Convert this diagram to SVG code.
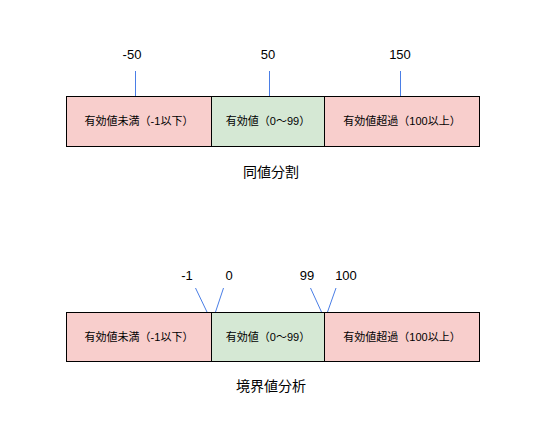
<svg xmlns="http://www.w3.org/2000/svg" width="544" height="426" viewBox="0 0 544 426">
<style>
text{font-family:"Liberation Sans","Noto Sans CJK JP",sans-serif;fill:#000;text-anchor:middle}
.lbl{font-size:13px}
.box{font-size:11px}
.ttl{font-size:14px}
.ng{fill:#f8cecc;stroke:#000;stroke-width:1}
.ok{fill:#d5e8d4;stroke:#000;stroke-width:1}
.ln{stroke:#4a7ee6;stroke-width:1;fill:none}
</style>
<rect width="544" height="426" fill="#fff"/>
<g id="ep-below"><rect class="ng" x="66.5" y="96.5" width="145" height="50"/><text class="box" x="139" y="125">有効値未満（-1以下）</text></g>
<g id="ep-valid"><rect class="ok" x="211.5" y="96.5" width="113" height="50"/><text class="box" x="268" y="125">有効値（0～99）</text></g>
<g id="ep-above"><rect class="ng" x="324.5" y="96.5" width="155" height="50"/><text class="box" x="402" y="125">有効値超過（100以上）</text></g>
<g id="ep-title"><text class="ttl" x="271" y="177">同値分割</text></g>
<g id="ep-labels"><text class="lbl" x="132" y="59">-50</text><text class="lbl" x="268" y="59">50</text><text class="lbl" x="400" y="59">150</text></g>
<g id="bv-below"><rect class="ng" x="66.5" y="312.5" width="145" height="49"/><text class="box" x="139" y="341">有効値未満（-1以下）</text></g>
<g id="bv-valid"><rect class="ok" x="211.5" y="312.5" width="113" height="49"/><text class="box" x="268" y="341">有効値（0～99）</text></g>
<g id="bv-above"><rect class="ng" x="324.5" y="312.5" width="155" height="49"/><text class="box" x="402" y="341">有効値超過（100以上）</text></g>
<g id="bv-title"><text class="ttl" x="271" y="391">境界値分析</text></g>
<g id="bv-labels"><text class="lbl" x="187" y="280">-1</text><text class="lbl" x="229" y="280">0</text><text class="lbl" x="307" y="280">99</text><text class="lbl" x="346" y="280">100</text></g>
<g id="connectors">
<line class="ln" x1="135.5" y1="71" x2="135.5" y2="96"/>
<line class="ln" x1="269.5" y1="71" x2="269.5" y2="96"/>
<line class="ln" x1="400.5" y1="71" x2="400.5" y2="96"/>
<line class="ln" x1="195.5" y1="288" x2="207" y2="312"/>
<line class="ln" x1="223.5" y1="288" x2="215.5" y2="312"/>
<line class="ln" x1="310.5" y1="288" x2="321.5" y2="312"/>
<line class="ln" x1="336" y1="288" x2="327.5" y2="312"/>
</g>
</svg>
